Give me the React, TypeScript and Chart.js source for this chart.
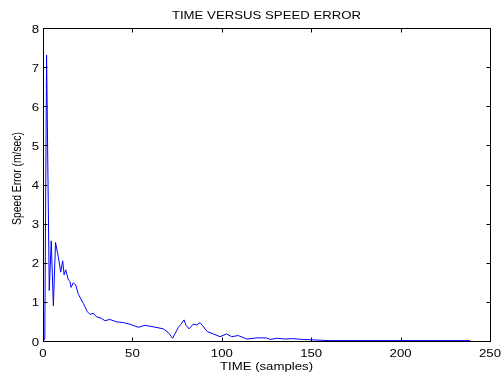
import React, { useEffect, useRef } from "react";
import { Chart, registerables } from "chart.js";

Chart.register(...registerables);

const timeSamples = [
  0, 1, 2, 3.5, 4.6, 5.8, 7, 8.6, 9.9, 11, 11.8, 12.7, 14.2, 15.1, 15.7, 17, 18.3, 19.8,
  22.6, 24.8, 26.3, 28.1, 29.9, 32.7, 34.6, 37.4, 41.1, 44.9, 48.6, 53.3, 57, 62, 67.3,
  70, 72.5, 74, 75.7, 77, 78.9, 80, 81.7, 84, 86, 87.8, 89.3, 91.9, 95.3, 99, 102.7,
  105.5, 109.2, 114, 119.5, 125, 127, 131, 135, 140, 145, 150, 155, 160, 239,
];
const speedError = [
  0, 0.05, 7.31, 1.29, 2.56, 0.9, 2.52, 2.14, 1.76, 2.05, 1.69, 1.82, 1.56, 1.52, 1.37,
  1.49, 1.43, 1.19, 0.96, 0.75, 0.68, 0.71, 0.62, 0.58, 0.52, 0.55, 0.49, 0.47, 0.43,
  0.35, 0.4, 0.36, 0.31, 0.22, 0.07, 0.2, 0.35, 0.42, 0.54, 0.4, 0.31, 0.43, 0.41, 0.47,
  0.39, 0.24, 0.18, 0.11, 0.18, 0.11, 0.14, 0.05, 0.08, 0.08, 0.04, 0.07, 0.05, 0.06,
  0.04, 0.03, 0.02, 0.01, 0.01,
];
const xTicks = [0, 50, 100, 150, 200, 250];
const yTicks = [0, 1, 2, 3, 4, 5, 6, 7, 8];
const chartTitle = "TIME VERSUS SPEED ERROR";
const xLabel = "TIME (samples)";
const yLabel = "Speed Error (m/sec)";

const FONT = "12px 'Liberation Sans', Arial, sans-serif";
const SX = 1.1;
const SY = 0.92;

function drawText(
  ctx: CanvasRenderingContext2D,
  text: string,
  x: number,
  y: number,
  align: CanvasTextAlign,
  baseline: CanvasTextBaseline,
  sx: number,
  sy: number,
  rot = 0
) {
  ctx.save();
  ctx.translate(x, y);
  if (rot) ctx.rotate(rot);
  ctx.scale(sx, sy);
  ctx.font = FONT;
  ctx.fillStyle = "#000";
  ctx.textAlign = align;
  ctx.textBaseline = baseline;
  ctx.fillText(text, 0, 0);
  ctx.restore();
}

const boxPlugin = {
  id: "matlabBox",
  afterDraw(chart: any) {
    const { ctx, chartArea: a, scales } = chart;
    ctx.save();
    ctx.strokeStyle = "#000";
    ctx.lineWidth = 1;
    const L = Math.round(a.left) + 0.5;
    const R = Math.round(a.right) + 0.5;
    const T = Math.round(a.top) + 0.5;
    const B = Math.round(a.bottom) + 0.5;
    ctx.strokeRect(L, T, R - L, B - T);
    const t = 4;
    ctx.beginPath();
    for (const v of xTicks) {
      const px = Math.round(scales.x.getPixelForValue(v)) + 0.5;
      ctx.moveTo(px, B);
      ctx.lineTo(px, B - t);
      ctx.moveTo(px, T);
      ctx.lineTo(px, T + t);
    }
    for (const v of yTicks) {
      const py = Math.round(scales.y.getPixelForValue(v)) + 0.5;
      ctx.moveTo(L, py);
      ctx.lineTo(L + t, py);
      ctx.moveTo(R, py);
      ctx.lineTo(R - t, py);
    }
    ctx.stroke();
    ctx.restore();

    for (const v of xTicks) {
      drawText(ctx, String(v), scales.x.getPixelForValue(v), 356.5, "center", "alphabetic", SX, SY);
    }
    for (const v of yTicks) {
      drawText(ctx, String(v), a.left - 4, scales.y.getPixelForValue(v) + 1.5, "right", "middle", SX, SY);
    }
    const cx = (a.left + a.right) / 2;
    drawText(ctx, chartTitle, cx, 19, "center", "alphabetic", SX, SY);
    drawText(ctx, xLabel, cx, 369.5, "center", "alphabetic", SX, SY);
    drawText(ctx, yLabel, 20.5, 178.5, "center", "alphabetic", 0.86, 1.1, -Math.PI / 2);
  },
};

export default function App() {
  const ref = useRef<HTMLCanvasElement | null>(null);
  useEffect(() => {
    if (!ref.current) return;
    const chart = new Chart(ref.current, {
      type: "line",
      data: {
        datasets: [
          {
            data: timeSamples.map((x, i) => ({ x, y: speedError[i] })),
            borderColor: "#0000ff",
            borderWidth: 1,
            pointRadius: 0,
            tension: 0,
            fill: false,
          },
        ],
      },
      options: {
        animation: false,
        responsive: false,
        layout: { padding: { top: 28, right: 11, left: 0, bottom: 0 } },
        plugins: { legend: { display: false }, tooltip: { enabled: false }, title: { display: false } },
        scales: {
          x: {
            type: "linear",
            min: 0,
            max: 250,
            afterFit: (s: any) => {
              s.height = 32;
            },
            grid: { display: false, drawTicks: false },
            border: { display: false },
            ticks: { display: false },
          },
          y: {
            type: "linear",
            min: 0,
            max: 8,
            afterFit: (s: any) => {
              s.width = 43;
            },
            grid: { display: false, drawTicks: false },
            border: { display: false },
            ticks: { display: false },
          },
        },
      },
      plugins: [boxPlugin],
    });
    return () => chart.destroy();
  }, []);
  return (
    <div style={{ position: "fixed", left: 0, top: 0, width: 501, height: 373, background: "#fff" }}>
      <canvas ref={ref} width={501} height={373} />
    </div>
  );
}
